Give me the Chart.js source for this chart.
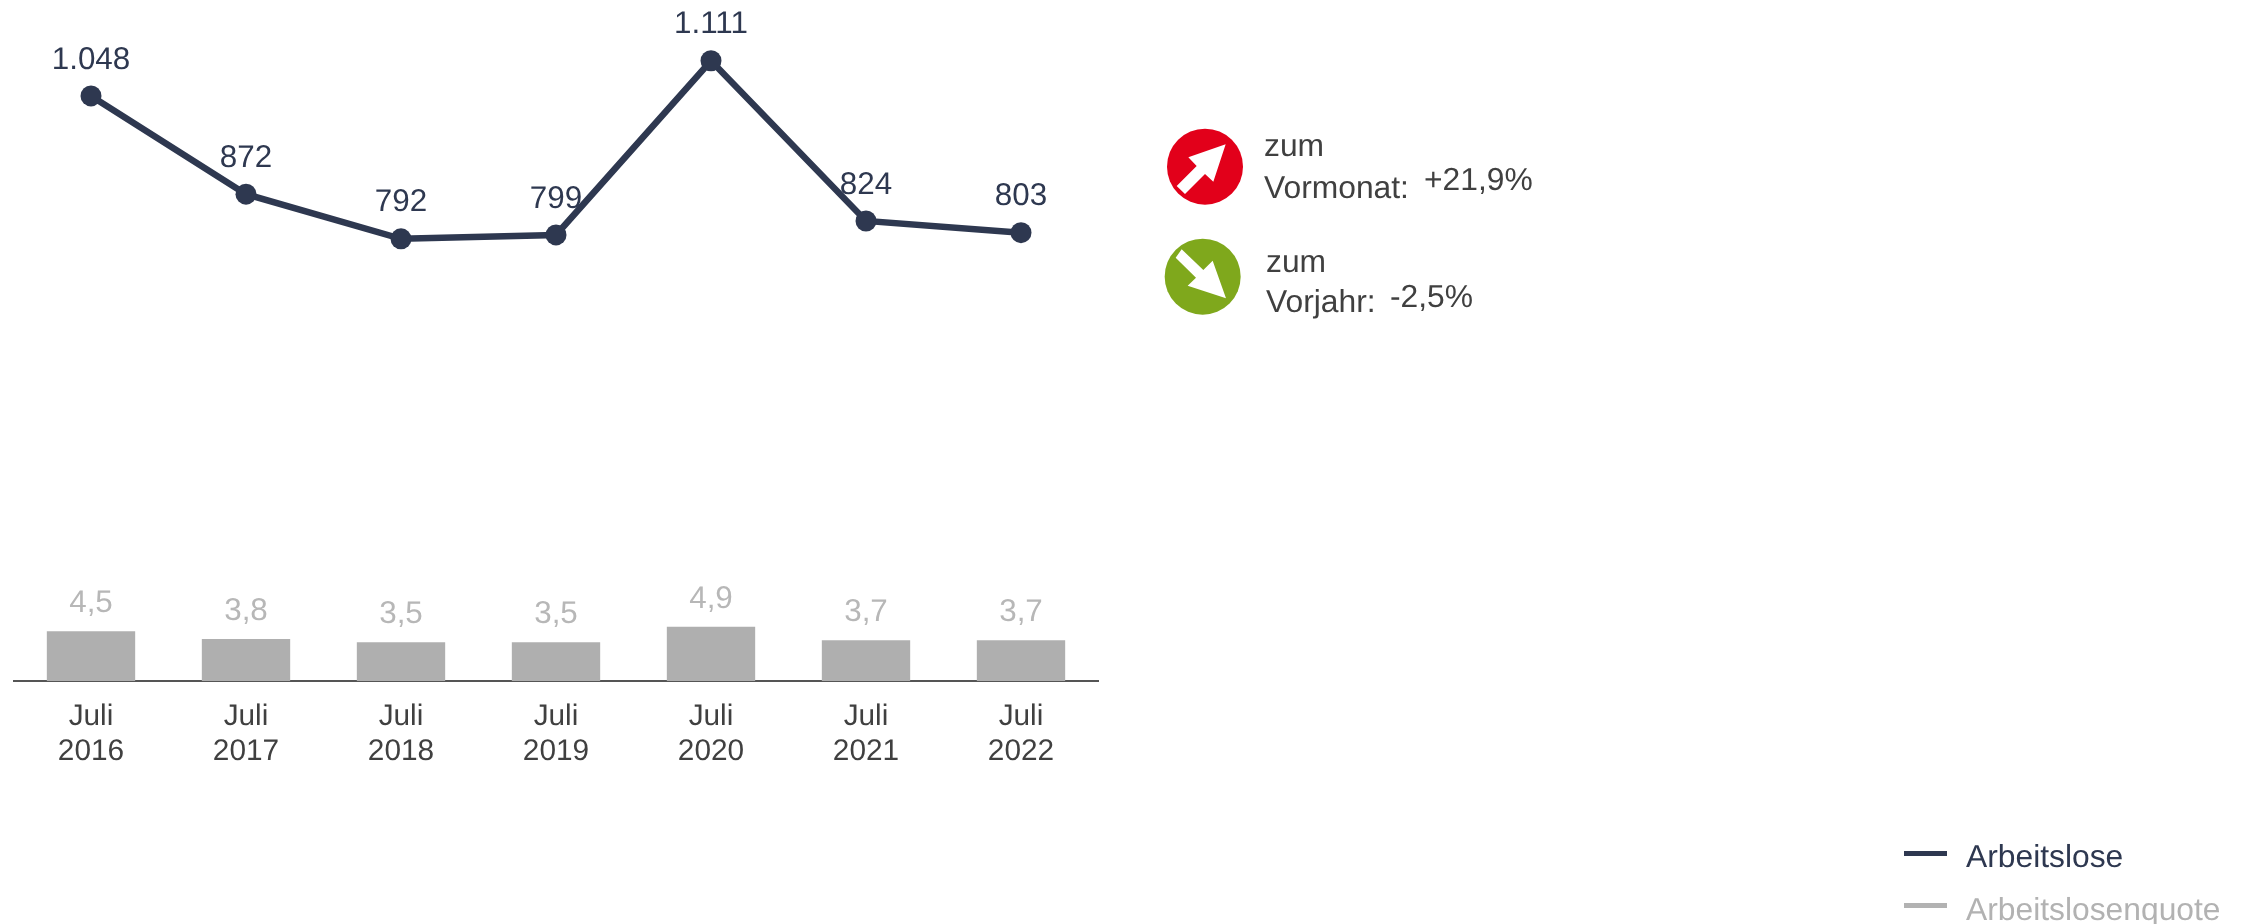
<!DOCTYPE html>
<html lang="de">
<head>
<meta charset="utf-8">
<title>Arbeitslose und Arbeitslosenquote</title>
<script src="https://cdn.jsdelivr.net/npm/chart.js@4/dist/chart.umd.min.js"></script>
<style>
  html, body { margin: 0; padding: 0; background: #fff; }
  #wrap { position: relative; width: 2247px; height: 924px; overflow: hidden; font-family: "Liberation Sans", Arial, sans-serif; text-rendering: geometricPrecision; }
  #chart { position: absolute; left: 0; top: 0; }
  .txt { position: absolute; white-space: nowrap; font-size: 31.8px; line-height: 36px; color: #404040; }
  .badge { position: absolute; left: 1140px; top: 110px; }
  .swatch { position: absolute; left: 1904px; width: 43px; height: 5px; }
</style>
</head>
<body>
<div id="wrap">
  <canvas id="chart" width="2247" height="924"></canvas>

  <svg class="badge" width="420" height="220" viewBox="0 0 1260 660">
    <circle cx="195" cy="170" r="114" fill="#e2001a"/>
    <polygon fill="#fff" points="257,103 145,142 170,168 110,228 135,252 195,192 220,215"/>
    <circle cx="188" cy="500" r="114" fill="#7fa81c"/>
    <polygon fill="#fff" points="258,565 143,527 168,503 107,443 125,418 190,480 218,452"/>
  </svg>
  <div class="txt" style="left:1264px;top:127px">zum</div>
  <div class="txt" style="left:1264px;top:169px">Vormonat:</div>
  <div class="txt" style="left:1424px;top:161px">+21,9%</div>
  <div class="txt" style="left:1266px;top:243px">zum</div>
  <div class="txt" style="left:1266px;top:283px">Vorjahr:</div>
  <div class="txt" style="left:1390px;top:278px">-2,5%</div>

  <div class="swatch" style="top:851px;background:#2e3850"></div>
  <div class="swatch" style="top:903px;background:#b2b2b2"></div>
  <div class="txt" style="left:1966px;top:838px;color:#2e3850">Arbeitslose</div>
  <div class="txt" style="left:1966px;top:891px;color:#b2b2b2">Arbeitslosenquote</div>
</div>

<script>
  var months = ['Juli', 'Juli', 'Juli', 'Juli', 'Juli', 'Juli', 'Juli'];
  var years = ['2016', '2017', '2018', '2019', '2020', '2021', '2022'];
  var arbeitslose = [1048, 872, 792, 799, 1111, 824, 803];
  var quote = [4.5, 3.8, 3.5, 3.5, 4.9, 3.7, 3.7];

  var NAVY = '#2e3850', GREY = '#afafaf';

  function fmtCount(v) {
    // German thousands separator
    return String(v).replace(/\B(?=(\d{3})+$)/g, '.');
  }
  function fmtQuote(v) { return v.toFixed(1).replace('.', ','); }

  // Chart.js has no value labels of its own, so draw them from the element positions.
  var valueLabels = {
    id: 'valueLabels',
    beforeDraw: function (chart) {
      // canvas text is hinted otherwise and comes out narrower than the reference
      chart.ctx.textRendering = 'geometricPrecision';
    },
    afterDatasetsDraw: function (chart) {
      var ctx = chart.ctx;
      ctx.save();
      ctx.font = '31.4px "Liberation Sans", Arial, sans-serif';
      ctx.textAlign = 'center';
      ctx.textBaseline = 'middle';
      chart.getDatasetMeta(0).data.forEach(function (pt, i) {
        ctx.fillStyle = NAVY;
        ctx.fillText(fmtCount(arbeitslose[i]), pt.x, pt.y - 36);
      });
      chart.getDatasetMeta(1).data.forEach(function (bar, i) {
        ctx.fillStyle = '#b7b7b7';
        ctx.fillText(fmtQuote(quote[i]), bar.x, bar.y - 28);
      });
      ctx.restore();
    }
  };

  new Chart(document.getElementById('chart'), {
    type: 'bar',
    plugins: [valueLabels],
    data: {
      labels: months.map(function (m, i) { return [m, years[i]]; }),
      datasets: [
        {
          type: 'line', label: 'Arbeitslose', data: arbeitslose, yAxisID: 'yLine', order: 0,
          borderColor: NAVY, backgroundColor: NAVY, borderWidth: 6.5,
          pointRadius: 10.5, pointBackgroundColor: NAVY, pointBorderWidth: 0,
          tension: 0, clip: false
        },
        {
          type: 'bar', label: 'Arbeitslosenquote', data: quote, yAxisID: 'yBar', order: 1,
          backgroundColor: GREY, barPercentage: 0.57, categoryPercentage: 1
        }
      ]
    },
    options: {
      responsive: false,
      animation: false,
      layout: { padding: { left: 13.5, right: 1148.5, top: 0, bottom: 0 } },
      plugins: { legend: { display: false }, tooltip: { enabled: false } },
      scales: {
        x: {
          grid: { display: false, drawTicks: false },
          border: { color: '#555555', width: 2 },
          afterFit: function (scale) { scale.height = 243; },
          ticks: {
            color: '#404040', padding: 18.5, maxRotation: 0, autoSkip: false,
            font: { family: '"Liberation Sans", Arial, sans-serif', size: 29.8, lineHeight: 1.16 }
          }
        },
        yLine: { display: false, min: 0, max: 1201 },
        yBar: { display: false, min: 0, max: 60.7 }
      }
    }
  });
</script>
</body>
</html>
